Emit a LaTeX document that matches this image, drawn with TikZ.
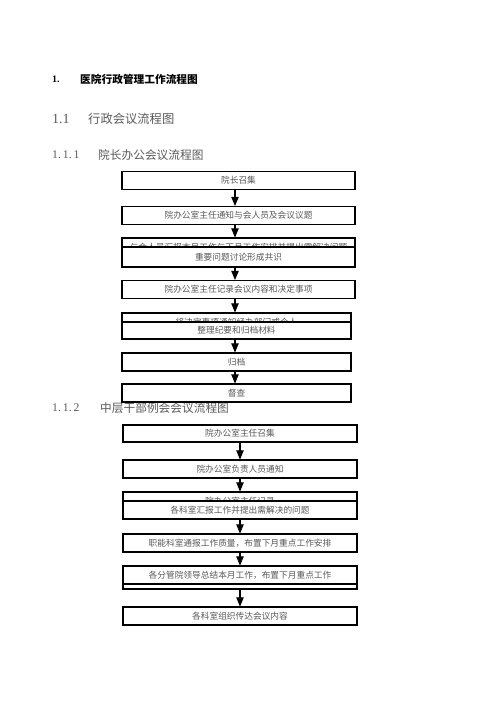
\documentclass[tikz,border=0pt]{standalone}
\usepackage{fontspec}
\setmainfont{Liberation Serif}
\newfontfamily\cjk{Noto Sans CJK SC}
\usetikzlibrary{arrows, positioning}

\begin{document}
\begin{tikzpicture}[node distance=35pt, auto, >=triangle 45]
    % Styles
    \tikzstyle{block} = [rectangle, draw, line width=1.1pt, fill=white, text=black!65,
                        font=\cjk\fontsize{8.7}{10}\selectfont, minimum width=233pt, minimum height=18pt, inner sep=0pt]
    \tikzstyle{narrow} = [block, minimum width=229pt]
    \tikzstyle{wide} = [block, minimum width=234pt]
    \tikzstyle{head} = [anchor=west, inner sep=0pt, text=black!65]
    \tikzstyle{link} = [->, line width=1.1pt]

    \useasboundingbox (0,0) rectangle (496pt,-702pt);

    % Headings
    \node[head, text=black, font=\bfseries\fontsize{10}{12}\selectfont] (t1) at (52pt,-79pt) {1.};
    \node[head, text=black, font=\cjk\bfseries\fontsize{10.7}{12}\selectfont] (t1name) at (80pt,-79pt) {医院行政管理工作流程图};
    \node[head, font=\fontsize{14}{16}\selectfont] (t11) at (52pt,-119pt) {1.1};
    \node[head, font=\cjk\fontsize{12.3}{14}\selectfont] (t11name) at (88pt,-119pt) {行政会议流程图};
    \node[head, font=\fontsize{11.7}{14}\selectfont] (t111) at (52pt,-155pt) {1.\,1.\,1};
    \node[head, font=\cjk\fontsize{11.7}{14}\selectfont] (t111name) at (98pt,-155pt) {院长办公会议流程图};
    \node[head, font=\fontsize{11.7}{14}\selectfont] (t112) at (52pt,-408pt) {1.\,1.\,2};
    \node[head, font=\cjk\fontsize{11.7}{14}\selectfont] (t112name) at (100pt,-408pt) {中层干部例会会议流程图};

    % Nodes: president's office meeting
    \node at (238.5pt,-180.5pt) [block] (call) {院长召集};
    \node [block, below of=call] (notify) {院办公室主任通知与会人员及会议议题};
    \node [block, below of=notify, node distance=31.5pt] (report) {与会人员汇报本月工作与下月工作安排并提出需解决问题};
    \node [block, below of=report, node distance=10pt, minimum height=20pt] (discuss) {重要问题讨论形成共识};
    \node [block, below of=discuss, node distance=32.5pt] (record) {院办公室主任记录会议内容和决定事项};
    \node [narrow, below of=record, node distance=32.5pt, xshift=-2pt] (inform) {将决定事项通知经办部门或个人};
    \node [narrow, below of=inform, node distance=8.5pt, minimum height=17pt] (summary) {整理纪要和归档材料};
    \node [narrow, below of=summary, node distance=31.5pt] (archive) {归档};
    \node [narrow, below of=archive, node distance=31pt] (check) {督查};

    % Nodes: middle-level cadre meeting
    \node at (240pt,-433.5pt) [wide, minimum height=17pt] (mcall) {院办公室主任召集};
    \node [wide, below of=mcall, node distance=35.5pt] (mnotify) {院办公室负责人员通知};
    \node [wide, below of=mnotify, node distance=32pt] (mrecord) {院办公室主任记录};
    \node [wide, below of=mrecord, node distance=9pt] (mreport) {各科室汇报工作并提出需解决的问题};
    \node [wide, below of=mreport, node distance=33pt] (quality) {职能科室通报工作质量，布置下月重点工作安排};
    \node [wide, below of=quality, node distance=34.5pt, minimum height=23pt] (leaderbg) {};
    \node [wide, below of=quality, node distance=32pt] (leader) {各分管院领导总结本月工作，布置下月重点工作};
    \node [wide, below of=leader, node distance=41pt] (relay) {各科室组织传达会议内容};

    % Connections
    \draw[link] ([xshift=-3.5pt]call.south) -- ([xshift=-3.5pt]notify.north);
    \draw[link] ([xshift=-3.5pt]notify.south) -- ([xshift=-3.5pt]report.north);
    \draw[link] ([xshift=-3.5pt]discuss.south) -- ([xshift=-3.5pt]record.north);
    \draw[link] ([xshift=-1.5pt]inform.north |- record.south) -- ([xshift=-1.5pt]inform.north);
    \draw[link] ([xshift=-1.5pt]summary.south) -- ([xshift=-1.5pt]archive.north);
    \draw[link] ([xshift=-1.5pt]archive.south) -- ([xshift=-1.5pt]check.north);

    \draw[link] (mcall) -- (mnotify);
    \draw[link] (mnotify) -- (mrecord);
    \draw[link] (mreport) -- (quality);
    \draw[link] (quality) -- (leader);
    \draw[link] (leaderbg) -- (relay);
\end{tikzpicture}
\end{document}
